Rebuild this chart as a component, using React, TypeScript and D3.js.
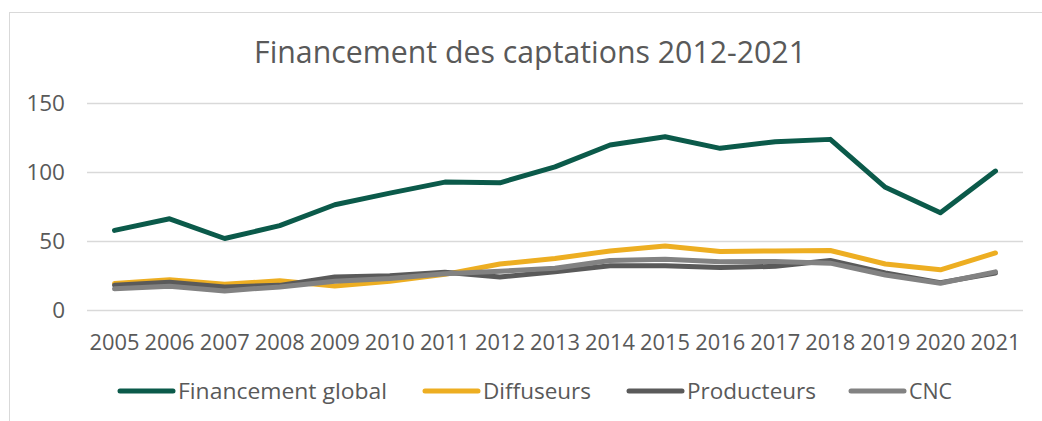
import React from "react";
import * as d3 from "d3";

const years = ["2005", "2006", "2007", "2008", "2009", "2010", "2011", "2012", "2013", "2014", "2015", "2016", "2017", "2018", "2019", "2020", "2021"];
const financementGlobal = [57.4, 65.8, 51.5, 60.8, 76, 84.4, 92.4, 91.9, 103.5, 119.3, 125.3, 116.9, 121.7, 123.4, 88.6, 70.2, 100.4];
const diffuseurs = [18.8, 21.5, 18.3, 20.8, 17, 20.5, 25.5, 33, 37, 42.5, 46, 42, 42.5, 42.8, 33, 28.8, 41];
const producteurs = [17.6, 19.8, 16.4, 17.5, 23.6, 24.5, 27, 23.6, 27.4, 31.7, 31.8, 30.4, 31.3, 35.5, 26.5, 19.5, 26.5];
const cnc = [15, 16.9, 13.5, 16.4, 20.5, 22.5, 26, 27.7, 29.9, 35.5, 36.5, 34.6, 34.8, 33.6, 25, 19, 27.3];
const yTicks = [0, 50, 100, 150];

const series = [
  { name: "Financement global", values: financementGlobal, color: "#0b5a4a", lx: 118, tw: 209 },
  { name: "Diffuseurs", values: diffuseurs, color: "#edae22", lx: 423, tw: 108 },
  { name: "Producteurs", values: producteurs, color: "#5a5a5a", lx: 627, tw: 129 },
  { name: "CNC", values: cnc, color: "#828282", lx: 849, tw: 43 },
];

const W = 1042;
const H = 421;
const FONT = "'Open Sans', 'DejaVu Sans', sans-serif";
const TEXT = "#595959";

export default function App() {
  const x = d3.scalePoint<string>().domain(years).range([87, 1023]).padding(0.5);
  const y = d3.scaleLinear().domain([0, 150]).range([309.5, 102.7]);
  const line = d3
    .line<number>()
    .x((_, i) => x(years[i]) as number)
    .y((d) => y(d));

  return (
    <svg
      width={W}
      height={H}
      style={{ position: "absolute", left: 0, top: 0, background: "#fff" }}
    >
      <rect x={9.5} y={12.5} width={1040} height={420} fill="#fff" stroke="#d9d9d9" />
      <text
        x={530}
        y={63}
        textAnchor="middle"
        fontFamily={FONT}
        fontSize={31}
        fill={TEXT}
        textLength={552}
        lengthAdjust="spacingAndGlyphs"
      >
        Financement des captations 2012-2021
      </text>

      {yTicks.map((t) => (
        <g key={t}>
          <line x1={87} x2={1023} y1={Math.round(y(t)) + 0.5} y2={Math.round(y(t)) + 0.5} stroke="#d9d9d9" strokeWidth={1.5} />
          <text x={65} y={y(t) + 8} textAnchor="end" fontFamily={FONT} fontSize={22.5} fill={TEXT}>
            {t}
          </text>
        </g>
      ))}

      {years.map((yr) => (
        <text key={yr} x={x(yr)} y={350} textAnchor="middle" fontFamily={FONT} fontSize={22.5} fill={TEXT} textLength={50} lengthAdjust="spacingAndGlyphs">
          {yr}
        </text>
      ))}

      {series.map((s) => (
        <path
          key={s.name}
          d={line(s.values) ?? ""}
          fill="none"
          stroke={s.color}
          strokeWidth={5}
          strokeLinejoin="round"
          strokeLinecap="round"
        />
      ))}

      {series.map((s) => (
        <g key={s.name}>
          <line x1={s.lx + 2} x2={s.lx + 55} y1={391} y2={391} stroke={s.color} strokeWidth={5} strokeLinecap="round" />
          <text
            x={s.lx + 60}
            y={399}
            fontFamily={FONT}
            fontSize={22.5}
            fill={TEXT}
            textLength={s.tw}
            lengthAdjust="spacingAndGlyphs"
          >
            {s.name}
          </text>
        </g>
      ))}
    </svg>
  );
}
